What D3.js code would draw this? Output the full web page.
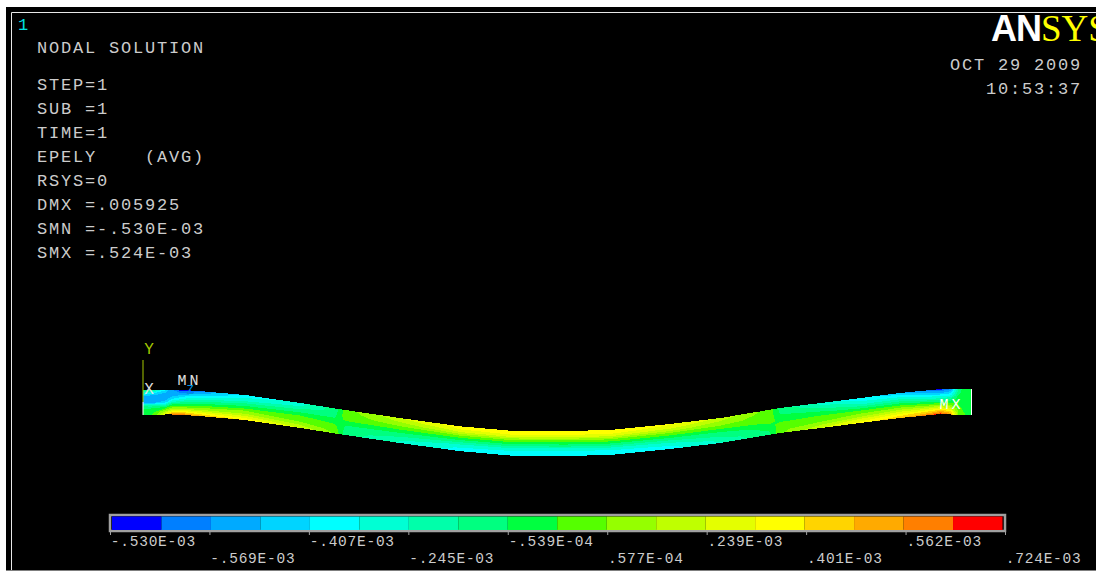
<!DOCTYPE html>
<html>
<head>
<meta charset="utf-8">
<script src="https://cdn.jsdelivr.net/npm/d3@7"></script>
<style>
  html, body { margin: 0; padding: 0; background: #fff; overflow: hidden; }
  text { font-family: "Liberation Mono", monospace; white-space: pre; }
  .info { font-size: 17px; fill: #cccccc; }
  .tick-label { font-size: 14.5px; fill: #cccccc; }
</style>
</head>
<body>
<svg id="chart" width="1096" height="573"></svg>
<script>
"use strict";

// Text blocks in the ANSYS plot window
const infoLines = [
    'STEP=1', 'SUB =1', 'TIME=1', 'EPELY    (AVG)', 'RSYS=0',
    'DMX =.005925', 'SMN =-.530E-03', 'SMX =.524E-03'
];
const dateLines = ['OCT 29 2009', '10:53:37'];

// Legend: 18 contour bands, 10 labels (printed as in the original plot)
const bandColors = [
    '#0000ff', '#007fff', '#00aaff', '#00d4ff', '#00ffff', '#00ffd4',
    '#00ffaa', '#00ff80', '#00ff40', '#55ff00', '#95ff00', '#bfff00',
    '#e4ff00', '#ffff00', '#ffd400', '#ffaa00', '#ff7f00', '#ff0000'
];
const tickLabels = [
    '-.530E-03', '-.569E-03', '-.407E-03', '-.245E-03', '-.539E-04',
    '.577E-04', '.239E-03', '.401E-03', '.562E-03', '.724E-03'
];

// Beam shape: position along length (%), deflection of each edge (x 1e-3)
const stations = [
    0, 0.7, 1.4, 2.7, 3.5, 4.5, 5.7, 7.5, 12.3, 19, 23.2, 24.4, 31, 38.3, 44.3,
    51, 56.4, 63.6, 69.7, 75.7, 76.9, 81.8, 86.6, 91.4, 96.3, 97.5, 98.4, 99.3, 100
];
const topEdge = [
    0, 0, 0, 0.07, 0.07, 0, -0.07, -0.22, -0.72, -1.88, -2.67, -2.89, -4.05, -5.25, -5.88,
    -5.925, -5.78, -4.91, -4.05, -2.85, -2.60, -1.88, -1.16, -0.43, 0.14, 0.14, 0.14, 0.14, 0.14
];
const bottomEdge = [
    -3.61, -3.61, -3.61, -3.54, -3.54, -3.61, -3.68, -3.83, -4.34, -5.49, -6.29, -6.50, -7.66, -8.84, -9.47,
    -9.54, -9.39, -8.53, -7.66, -6.46, -6.21, -5.49, -4.77, -4.05, -3.47, -3.54, -3.61, -3.61, -3.61
];

// EPELY through the section, in legend band units: one row per station, top to bottom
const strainField = [
    [8, 5.5, 2.5, 2.5, 2.5, 7, 8, 8, 8],
    [7.5, 5, 2.5, 2.5, 2.5, 6.5, 8, 8.5, 8.5],
    [6.5, 4, 2.5, 2.5, 2.8, 6.5, 8.5, 9, 9.5],
    [4.5, 3, 2.5, 2.5, 3.5, 6.5, 9, 11, 13],
    [2, 2.5, 2.8, 4, 6, 8.5, 10.5, 13, 16.5],
    [0.5, 2, 3.5, 5, 7, 9, 11, 14, 17.5],
    [0.5, 2.5, 4.5, 6, 7.5, 9, 11, 13.5, 16],
    [2, 3.5, 5, 6.5, 8, 9.5, 11, 13, 15],
    [4, 5, 6, 7.5, 8.5, 10, 11, 12.5, 14],
    [5.5, 6, 7, 8, 9, 9.5, 10, 11, 12],
    [7.5, 7.5, 7.8, 8, 8.5, 9, 9.3, 9.6, 9.8],
    [9.5, 9.5, 9.5, 9.3, 8.7, 8, 7.8, 7.6, 7.5],
    [12, 11.2, 10.5, 9.7, 8.7, 7.8, 7, 6.2, 5.8],
    [13.5, 13, 11.8, 10, 8.6, 7.2, 5.8, 4.9, 4.5],
    [13.8, 13.3, 12, 10, 8.5, 7, 5.4, 4.6, 4.3],
    [13.9, 13.4, 12, 10, 8.5, 7, 5.3, 4.5, 4.2],
    [13.8, 13.3, 12, 10, 8.5, 7, 5.4, 4.6, 4.3],
    [13.2, 12.6, 11.4, 9.8, 8.6, 7.3, 6, 5, 4.6],
    [11.8, 11, 10.4, 9.5, 8.5, 7.5, 7, 6.3, 5.8],
    [9.5, 9.5, 9.5, 9.5, 9.2, 8.8, 8.3, 8, 8],
    [7.5, 7.8, 8, 8.3, 8.8, 9.2, 9.5, 9.7, 9.8],
    [5.5, 6.5, 7.5, 8.2, 9, 9.5, 10, 11, 12],
    [4.5, 5, 6, 7.5, 9, 10, 11, 12.5, 13.5],
    [3, 4.5, 6, 7.5, 9, 10.5, 12, 13.5, 15],
    [0.5, 2.5, 4.5, 6, 8, 10, 12.5, 15, 17.5],
    [2, 3.5, 5, 7, 8.5, 10, 12, 14, 16],
    [7, 7.5, 8, 8.5, 9, 9, 9.5, 10, 10],
    [9, 9, 8.8, 8.5, 8.5, 8.5, 8.5, 8.5, 9],
    [8.8, 8.8, 8.8, 8.5, 8.5, 8.5, 8.5, 8.5, 8.8]
];

const svg = d3.select('#chart');

// Put each character in its own fixed-width cell, the plot font is monospaced
function cellPositions(txt, startX, advance) {
    return Array.from(txt, (c, i) => startX + (i + 0.5) * advance).join(' ');
}

// Plot window
svg.append('rect')
    .attr('x', 6).attr('y', 7)
    .attr('width', 1090).attr('height', 563.5)
    .attr('fill', '#000');
svg.append('path')
    .attr('d', 'M1096,12.5H11.5V570')
    .attr('fill', 'none')
    .attr('stroke', '#e8e8e8');

// Scales
const xScale = d3.scaleLinear().domain([0, 100]).range([143, 971.5]);
const yScale = d3.scaleLinear().domain([0, -5.925]).range([390, 431]);
const stationIndex = d3.scaleLinear().domain(stations.map((d, i) => i)).range(stations);
const topScale = d3.scaleLinear().domain(stations.map((d, i) => i)).range(topEdge);
const bottomScale = d3.scaleLinear().domain(stations.map((d, i) => i)).range(bottomEdge);

// Contour grid cell -> position on the deformed beam
const nx = stations.length;
const ny = strainField[0].length;
const beamProjection = d3.geoTransform({
    point: function(gx, gy) {
        const i = Math.max(0, Math.min(nx - 1, gx - 0.5));
        const t = Math.max(0, Math.min(1, (gy - 0.5) / (ny - 1)));
        const yTop = yScale(topScale(i));
        const yBottom = yScale(bottomScale(i));
        this.stream.point(xScale(stationIndex(i)), yTop + (yBottom - yTop) * t);
    }
});
const beamPath = d3.geoPath(beamProjection);

// Flatten field column by column as d3.contours wants it
const gridValues = [];
for (let j = 0; j < ny; j++) {
    for (let i = 0; i < nx; i++) {
        gridValues.push(strainField[i][j]);
    }
}

const contours = d3.contours()
    .size([nx, ny])
    .smooth(true)
    .thresholds(bandColors.map((d, i) => i))(gridValues);

// d3.contours leaves threshold 0 covering the grid, so band 0 is painted first
svg.append('g')
    .attr('class', 'beam')
    .selectAll('path')
    .data(contours)
    .enter().append('path')
    .attr('d', beamPath)
    .attr('fill', d => bandColors[d.value])
    .attr('shape-rendering', 'crispEdges');

// End lines of the beam and the triad
const yEnd = i => yScale(bottomEdge[i]);
svg.append('line')
    .attr('x1', xScale(0)).attr('x2', xScale(0))
    .attr('y1', 360).attr('y2', yScale(-1.73))
    .attr('stroke', '#a4c800');
svg.append('line')
    .attr('x1', xScale(0)).attr('x2', xScale(0))
    .attr('y1', yScale(-1.73)).attr('y2', yEnd(0))
    .attr('stroke', '#fff');
svg.append('line')
    .attr('x1', xScale(100)).attr('x2', xScale(100))
    .attr('y1', yScale(topEdge[nx - 1])).attr('y2', yEnd(nx - 1))
    .attr('stroke', '#fff');

// Labels on the model
const addLabel = (txt, x, y, color, size) => svg.append('text')
    .attr('x', cellPositions(txt, x, 12))
    .attr('y', y)
    .attr('text-anchor', 'middle')
    .style('fill', color)
    .style('font-size', size + 'px')
    .text(txt);
addLabel('Y', 143, 354, '#a4c800', 16);
addLabel('X', 143, 394, '#e0e0e0', 16);
addLabel('Z', 184, 394, '#0090e0', 12);
addLabel('MN', 176, 385, '#e0e0e0', 15);
addLabel('MX', 938, 409, '#ffffff', 15);

// Text blocks
const addInfo = (sel, startX) => sel
    .attr('class', 'info')
    .attr('text-anchor', 'middle')
    .attr('x', d => cellPositions(d, startX(d), 12))
    .text(d => d);
svg.append('text').datum('1').call(addInfo, () => 17)
    .attr('y', 30)
    .style('fill', '#00e0e0');
svg.append('text').datum('NODAL SOLUTION').call(addInfo, () => 36)
    .attr('y', 53);
svg.append('g').selectAll('text')
    .data(infoLines)
    .enter().append('text')
    .call(addInfo, () => 36)
    .attr('y', (d, i) => 90 + i * 24);
svg.append('g').selectAll('text')
    .data(dateLines)
    .enter().append('text')
    .call(addInfo, d => 1081 - d.length * 12)
    .attr('y', (d, i) => 70 + i * 24);

// ANSYS logo
const logo = svg.append('text')
    .attr('x', 991).attr('y', 41);
logo.append('tspan')
    .attr('fill', '#fff')
    .style('font-family', '"Liberation Sans", sans-serif')
    .style('font-weight', 'bold')
    .style('font-size', '36px')
    .style('letter-spacing', '-1px')
    .text('AN');
logo.append('tspan')
    .attr('fill', '#ffff00')
    .style('font-family', '"Liberation Serif", serif')
    .style('font-size', '37px')
    .text('SYS');

// Legend bar
const bandScale = d3.scaleBand()
    .domain(bandColors.map((d, i) => i))
    .range([112, 1002.5]);
const tickScale = d3.scaleLinear()
    .domain([0, tickLabels.length - 1])
    .range([110, 1005]);

svg.append('rect')
    .attr('x', 110).attr('y', 515)
    .attr('width', 895).attr('height', 16)
    .attr('fill', 'none')
    .attr('stroke', '#a0a0a0')
    .attr('stroke-width', 2.5);
svg.append('g').selectAll('rect')
    .data(bandColors)
    .enter().append('rect')
    .attr('x', (d, i) => bandScale(i))
    .attr('y', 516.5)
    .attr('width', bandScale.bandwidth())
    .attr('height', 13.5)
    .attr('fill', d => d);

const legendAxis = d3.axisBottom(tickScale)
    .tickValues(tickLabels.map((d, i) => i))
    .tickSize(4)
    .tickSizeOuter(0)
    .tickFormat(i => tickLabels[i]);
const axisG = svg.append('g')
    .attr('transform', 'translate(0,531)')
    .call(legendAxis);
axisG.select('.domain').remove();
axisG.selectAll('line').attr('stroke', '#a0a0a0');
axisG.selectAll('text')
    .attr('class', 'tick-label')
    .attr('text-anchor', 'middle')
    .attr('dy', null)
    .attr('x', (d, i) => cellPositions(tickLabels[i], 0, 9.45))
    .attr('y', (d, i) => i % 2 === 0 ? 15 : 32)
    .attr('fill', null);
</script>
</body>
</html>
